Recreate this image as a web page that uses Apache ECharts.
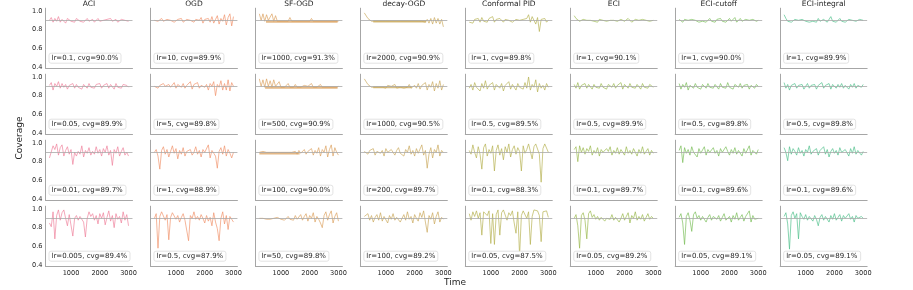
<!DOCTYPE html>
<html><head><meta charset="utf-8">
<script src="https://cdn.jsdelivr.net/npm/echarts@6/dist/echarts.min.js"></script>
<style>html,body{margin:0;padding:0;background:#fff}#c{width:913px;height:290px}</style>
</head><body><div id="c"></div>
<script>
const methods = ["ACI","OGD","SF-OGD","decay-OGD","Conformal PID","ECI","ECI-cutoff","ECI-integral"];
const times = [250,312.5,375,437.5,500,562.5,625,687.5,750,812.5,875,937.5,1000,1062.5,1125,1187.5,1250,1312.5,1375,1437.5,1500,1562.5,1625,1687.5,1750,1812.5,1875,1937.5,2000,2062.5,2125,2187.5,2250,2312.5,2375,2437.5,2500,2562.5,2625,2687.5,2750,2812.5,2875,2937.5,3000];
const xTicks = [1000,2000,3000];
const yTicks = [0.4,0.6,0.8,1.0];
const target = 0.9;
// learning rates and overall coverage, one row per grid row, one entry per method
const lrRows = [
  ["0.1","10","1000","2000","1","1","1","1"],
  ["0.05","5","500","1000","0.5","0.5","0.5","0.5"],
  ["0.01","1","100","200","0.1","0.1","0.1","0.1"],
  ["0.005","0.5","50","100","0.05","0.05","0.05","0.05"]
];
const cvgRows = [
  [90.0,89.9,91.3,90.9,89.8,90.1,90.0,89.9],
  [89.9,89.8,90.9,90.5,89.5,89.9,89.8,89.8],
  [89.7,88.9,90.0,89.7,88.3,89.7,89.6,89.6],
  [89.4,87.9,89.8,89.2,87.5,89.2,89.1,89.1]
];
const covACI = [
  [0.90,0.93,0.88,0.92,0.89,0.94,0.88,0.91,0.93,0.87,0.92,0.90,0.89,0.91,0.88,0.92,0.90,0.89,0.91,0.88,0.90,0.92,0.89,0.90,0.91,0.88,0.90,0.92,0.89,0.91,0.90,0.88,0.91,0.90,0.92,0.89,0.90,0.91,0.88,0.90,0.91,0.89,0.90,0.91,0.89],
  [0.91,0.94,0.86,0.93,0.90,0.95,0.88,0.93,0.89,0.92,0.87,0.91,0.90,0.93,0.88,0.92,0.89,0.90,0.87,0.92,0.90,0.88,0.93,0.89,0.91,0.88,0.92,0.90,0.93,0.88,0.91,0.89,0.93,0.88,0.92,0.90,0.87,0.93,0.89,0.91,0.88,0.92,0.90,0.91,0.89],
  [0.84,0.82,0.97,0.93,0.99,0.87,0.95,0.98,0.86,0.92,0.96,0.88,0.93,0.77,0.90,0.86,0.91,0.88,0.97,0.85,0.92,0.89,0.95,0.87,0.91,0.88,0.96,0.89,0.93,0.86,0.94,0.90,0.97,0.87,0.92,0.76,0.93,0.89,0.96,0.86,0.91,0.95,0.87,0.90,0.86],
  [0.85,0.81,0.97,0.68,0.93,0.99,0.88,0.96,0.99,0.90,0.82,0.94,0.92,0.71,0.90,0.93,0.88,0.92,0.94,0.86,0.70,0.90,0.97,0.92,0.95,0.88,0.93,0.84,0.95,0.90,0.96,0.83,0.91,0.98,0.87,0.93,0.80,0.95,0.89,0.92,0.85,0.97,0.88,0.94,0.82]
];
const covOGD = [
  [0.90,0.91,0.89,0.90,0.92,0.89,0.90,0.91,0.89,0.90,0.91,0.88,0.90,0.91,0.89,0.92,0.88,0.90,0.91,0.89,0.90,0.92,0.88,0.91,0.89,0.90,0.93,0.87,0.91,0.89,0.92,0.88,0.94,0.87,0.91,0.95,0.86,0.92,0.89,0.96,0.85,0.93,0.97,0.84,0.94],
  [0.90,0.92,0.88,0.91,0.89,0.93,0.90,0.88,0.92,0.89,0.91,0.94,0.88,0.92,0.90,0.89,0.93,0.88,0.91,0.90,0.95,0.87,0.92,0.90,0.94,0.88,0.91,0.93,0.89,0.92,0.86,0.93,0.90,0.95,0.80,0.92,0.89,0.96,0.86,0.93,0.86,0.97,0.85,0.94,0.90],
  [0.90,0.93,0.86,0.72,0.92,0.96,0.88,0.93,0.85,0.91,0.97,0.89,0.94,0.83,0.92,0.88,0.95,0.86,0.91,0.89,0.93,0.87,0.90,0.96,0.88,0.92,0.85,0.93,0.90,0.88,0.98,0.84,0.92,0.89,0.86,0.73,0.91,0.95,0.88,0.97,0.86,0.93,0.89,0.84,0.90],
  [0.90,0.95,0.58,0.92,0.97,0.99,0.88,0.94,0.67,0.91,0.96,0.98,0.89,0.93,0.86,0.91,0.95,0.88,0.90,0.66,0.93,0.90,0.97,0.89,0.92,0.88,0.94,0.90,0.85,0.93,0.87,0.91,0.82,0.96,0.86,0.79,0.66,0.90,0.97,0.84,0.93,0.78,0.92,0.89,0.86]
];
const covSFOGD = [
  [0.97,0.90,0.97,0.89,0.96,0.90,0.89,0.97,0.89,0.95,0.89,0.90,0.89,0.90,0.89,0.90,0.89,0.93,0.89,0.90,0.89,0.90,0.89,0.90,0.89,0.90,0.89,0.90,0.89,0.92,0.89,0.90,0.89,0.90,0.89,0.90,0.89,0.90,0.89,0.90,0.89,0.90,0.89,0.90,0.89],
  [0.98,0.90,0.97,0.89,0.98,0.90,0.96,0.89,0.97,0.90,0.89,0.95,0.89,0.90,0.89,0.90,0.93,0.89,0.90,0.89,0.92,0.89,0.90,0.89,0.90,0.91,0.89,0.90,0.89,0.93,0.89,0.90,0.89,0.90,0.92,0.89,0.90,0.89,0.91,0.89,0.90,0.89,0.90,0.89,0.90],
  [0.90,0.89,0.91,0.89,0.90,0.89,0.90,0.89,0.90,0.89,0.90,0.89,0.90,0.89,0.90,0.89,0.90,0.89,0.90,0.89,0.91,0.88,0.92,0.89,0.90,0.93,0.88,0.91,0.89,0.94,0.87,0.92,0.89,0.95,0.86,0.93,0.90,0.97,0.85,0.93,0.98,0.86,0.95,0.90,0.87],
  [0.90,0.89,0.90,0.91,0.89,0.90,0.89,0.91,0.90,0.89,0.91,0.90,0.89,0.91,0.88,0.90,0.92,0.89,0.91,0.88,0.93,0.89,0.91,0.94,0.88,0.92,0.95,0.87,0.93,0.90,0.96,0.86,0.92,0.89,0.85,0.80,0.93,0.97,0.88,0.94,0.98,0.85,0.92,0.96,0.87]
];
const covDecayOGD = [
  [0.98,0.97,0.92,0.90,0.89,0.90,0.89,0.90,0.89,0.90,0.89,0.90,0.89,0.90,0.89,0.90,0.89,0.90,0.89,0.90,0.89,0.90,0.89,0.90,0.89,0.90,0.89,0.90,0.89,0.90,0.89,0.90,0.89,0.90,0.88,0.91,0.87,0.92,0.86,0.93,0.87,0.92,0.86,0.91,0.83],
  [0.98,0.96,0.92,0.90,0.89,0.91,0.89,0.90,0.89,0.91,0.89,0.90,0.88,0.91,0.89,0.90,0.89,0.92,0.88,0.90,0.89,0.91,0.88,0.90,0.89,0.92,0.88,0.90,0.91,0.88,0.93,0.87,0.91,0.89,0.94,0.86,0.92,0.89,0.95,0.85,0.93,0.88,0.96,0.86,0.92],
  [0.91,0.93,0.88,0.92,0.90,0.94,0.87,0.91,0.93,0.89,0.92,0.86,0.94,0.90,0.88,0.93,0.91,0.87,0.92,0.95,0.89,0.91,0.86,0.93,0.90,0.97,0.88,0.92,0.86,0.94,0.89,0.91,0.98,0.87,0.92,0.73,0.88,0.95,0.84,0.93,0.90,0.98,0.86,0.92,0.90],
  [0.92,0.90,0.95,0.88,0.93,0.86,0.91,0.94,0.88,0.96,0.87,0.92,0.90,0.85,0.93,0.89,0.95,0.88,0.91,0.93,0.86,0.90,0.94,0.88,0.97,0.89,0.92,0.85,0.94,0.90,0.87,0.96,0.91,0.98,0.86,0.75,0.93,0.89,0.96,0.84,0.92,0.97,0.86,0.91,0.89]
];
const covPID = [
  [0.88,0.90,0.87,0.91,0.89,0.92,0.88,0.93,0.89,0.91,0.88,0.92,0.90,0.94,0.88,0.91,0.89,0.92,0.90,0.88,0.91,0.89,0.90,0.92,0.88,0.90,0.91,0.89,0.90,0.88,0.91,0.89,0.92,0.96,0.88,0.94,0.90,0.86,0.93,0.78,0.91,0.89,0.92,0.88,0.90],
  [0.88,0.92,0.86,0.94,0.89,0.91,0.85,0.93,0.88,0.96,0.87,0.91,0.89,0.94,0.86,0.92,0.90,0.88,0.93,0.85,0.91,0.89,0.95,0.87,0.92,0.90,0.86,0.93,0.89,0.91,0.87,0.94,0.88,1.00,0.86,0.92,0.89,0.97,0.84,0.93,0.88,0.91,0.86,0.93,0.89],
  [0.92,0.88,0.98,0.90,0.84,0.96,0.88,0.72,0.95,0.99,0.86,0.93,0.89,0.97,0.70,0.92,0.98,0.87,0.94,0.82,0.96,0.90,0.99,0.85,0.93,0.97,0.88,0.95,0.91,0.70,0.97,0.89,0.93,0.99,0.99,0.83,0.96,0.99,0.98,0.88,0.58,0.94,0.99,0.97,0.90],
  [0.95,0.88,0.97,0.92,0.98,0.90,0.96,0.72,0.97,0.99,0.93,0.98,0.63,0.95,0.62,0.94,0.99,0.72,0.96,0.99,0.99,0.88,0.96,0.93,0.98,0.85,0.74,0.97,0.50,0.93,0.98,0.99,0.90,0.97,0.62,0.92,0.99,0.99,0.98,0.93,0.65,0.97,0.99,0.98,0.91]
];
const covECI = [
  [0.95,0.92,0.90,0.89,0.90,0.91,0.89,0.90,0.88,0.90,0.91,0.89,0.90,0.88,0.91,0.89,0.90,0.92,0.89,0.91,0.90,0.88,0.90,0.92,0.89,0.90,0.91,0.93,0.89,0.90,0.92,0.94,0.88,0.90,0.91,0.89,0.90,0.88,0.91,0.89,0.90,0.91,0.89,0.90,0.90],
  [0.92,0.88,0.94,0.87,0.91,0.89,0.93,0.88,0.92,0.90,0.87,0.92,0.89,0.91,0.88,0.93,0.89,0.90,0.87,0.92,0.90,0.89,0.93,0.88,0.91,0.89,0.94,0.87,0.92,0.90,0.88,0.93,0.89,0.91,0.88,0.92,0.90,0.87,0.93,0.89,0.91,0.88,0.92,0.90,0.89],
  [0.93,0.96,0.80,0.97,0.90,0.95,0.88,0.94,0.91,0.97,0.87,0.92,0.89,0.95,0.86,0.93,0.90,0.88,0.94,0.91,0.96,0.87,0.92,0.89,0.95,0.88,0.93,0.90,0.87,0.96,0.89,0.92,0.88,0.94,0.90,0.86,0.93,0.89,0.96,0.88,0.91,0.94,0.87,0.92,0.89],
  [0.90,0.94,0.82,0.58,0.93,0.96,0.88,0.68,0.95,0.98,0.91,0.94,0.89,0.92,0.88,0.91,0.93,0.87,0.90,0.92,0.89,0.94,0.88,0.91,0.93,0.86,0.90,0.95,0.88,0.92,0.96,0.85,0.93,0.90,0.97,0.88,0.92,0.89,0.94,0.87,0.91,0.95,0.89,0.92,0.90]
];
const covECIcutoff = [
  [0.91,0.90,0.88,0.91,0.89,0.90,0.88,0.91,0.89,0.90,0.92,0.88,0.90,0.89,0.91,0.88,0.90,0.92,0.89,0.90,0.88,0.91,0.90,0.92,0.89,0.91,0.88,0.90,0.92,0.89,0.91,0.93,0.88,0.90,0.92,0.89,0.90,0.91,0.89,0.90,0.89,0.91,0.90,0.89,0.90],
  [0.93,0.87,0.92,0.89,0.94,0.86,0.91,0.90,0.88,0.93,0.89,0.91,0.87,0.92,0.90,0.88,0.93,0.89,0.91,0.88,0.92,0.90,0.87,0.93,0.89,0.91,0.88,0.94,0.89,0.90,0.87,0.92,0.90,0.89,0.93,0.88,0.91,0.89,0.92,0.87,0.91,0.90,0.88,0.92,0.90],
  [0.92,0.97,0.79,0.95,0.89,0.93,0.87,0.96,0.90,0.92,0.85,0.94,0.89,0.91,0.96,0.87,0.93,0.90,0.88,0.95,0.89,0.92,0.86,0.94,0.90,0.88,0.96,0.91,0.87,0.93,0.89,0.95,0.88,0.92,0.90,0.86,0.94,0.89,0.91,0.97,0.87,0.92,0.90,0.88,0.93],
  [0.91,0.95,0.85,0.62,0.92,0.96,0.88,0.76,0.94,0.97,0.90,0.93,0.88,0.92,0.89,0.86,0.91,0.94,0.88,0.92,0.90,0.89,0.93,0.87,0.91,0.95,0.88,0.90,0.92,0.86,0.93,0.89,0.96,0.88,0.91,0.94,0.87,0.92,0.90,0.98,0.86,0.93,0.89,0.91,0.90]
];
const covECIintegral = [
  [0.96,0.92,0.89,0.91,0.88,0.90,0.91,0.89,0.90,0.88,0.91,0.90,0.89,0.91,0.88,0.90,0.89,0.91,0.88,0.92,0.89,0.90,0.91,0.93,0.88,0.90,0.94,0.89,0.91,0.88,0.90,0.92,0.89,0.91,0.88,0.90,0.91,0.89,0.90,0.92,0.89,0.90,0.91,0.89,0.90],
  [0.94,0.88,0.92,0.86,0.91,0.90,0.93,0.88,0.91,0.89,0.92,0.87,0.90,0.93,0.88,0.91,0.89,0.92,0.87,0.91,0.90,0.94,0.88,0.91,0.89,0.93,0.87,0.92,0.90,0.88,0.92,0.89,0.93,0.88,0.91,0.90,0.87,0.92,0.89,0.93,0.88,0.91,0.90,0.89,0.92],
  [0.95,0.90,0.81,0.96,0.88,0.94,0.91,0.87,0.95,0.89,0.92,0.86,0.93,0.90,0.97,0.88,0.91,0.89,0.94,0.87,0.92,0.90,0.96,0.88,0.93,0.85,0.91,0.94,0.89,0.92,0.87,0.95,0.90,0.88,0.93,0.91,0.86,0.94,0.89,0.96,0.88,0.92,0.90,0.87,0.91],
  [0.92,0.96,0.84,0.57,0.93,0.97,0.90,0.95,0.68,0.96,0.92,0.89,0.94,0.88,0.92,0.90,0.87,0.93,0.89,0.82,0.91,0.94,0.88,0.92,0.90,0.86,0.93,0.89,0.95,0.88,0.91,0.94,0.87,0.93,0.90,0.88,0.95,0.89,0.92,0.86,0.93,0.90,0.88,0.92,0.90]
];
// dense oscillation bands [tStart, tEnd, low, high] per row (null = none)
const bandSFOGD = [[480,2970,0.875,0.90],[450,2970,0.875,0.90],[250,1650,0.878,0.90],null];
const bandDecayOGD = [[560,2400,0.877,0.90],[560,1900,0.880,0.90],null,null];

const coverage = [covACI,covOGD,covSFOGD,covDecayOGD,covPID,covECI,covECIcutoff,covECIintegral];
const bands = [null,null,bandSFOGD,bandDecayOGD,null,null,null,null];
const colors = ["#ee7f9a","#f0916a","#dba05e","#c9a85a","#b5b14f","#98b84c","#77bd55","#4dbf8a"];

const FONT = "DejaVu Sans";
const TXT = "#262626";
const SPINE = "#a6a6a6";
const colLeft = c => 45.5 + 104.95*c;
const rowTop = r => 8.2 + 66*r;
const PW = 87, PH = 60.1;

const grid=[], xAxis=[], yAxis=[], series=[], title=[];
let idx=0;
for (let r=0;r<4;r++){
  for (let c=0;c<8;c++){
    grid.push({left:colLeft(c), top:rowTop(r), width:PW, height:PH, containLabel:false});
    xAxis.push({type:'value', gridIndex:idx, min:112.5, max:3137.5,
      axisLine:{show:true, lineStyle:{color:SPINE, width:1}},
      axisTick:{show:false},
      splitLine:{show:false},
      axisLabel:{show:r===3, customValues:xTicks, fontSize:6.6, fontFamily:FONT, color:TXT, margin:3,
        formatter:v=>String(Math.round(v))}
    });
    yAxis.push({type:'value', gridIndex:idx, min:0.386, max:1.03,
      axisLine:{show:true, lineStyle:{color:SPINE, width:1}},
      axisTick:{show:false},
      splitLine:{show:false},
      axisLabel:{show:c===0, customValues:yTicks, fontSize:6.6, fontFamily:FONT, color:TXT, margin:3,
        formatter:v=>v.toFixed(1)}
    });
    const vals = coverage[c][r];
    const s = {type:'line', xAxisIndex:idx, yAxisIndex:idx, showSymbol:false, symbol:'none',
      data: times.map((t,i)=>[t, vals[i]]),
      lineStyle:{color:colors[c], width:0.8, opacity:0.85},
      itemStyle:{color:colors[c]},
      silent:true, animation:false,
      markLine:{silent:true, symbol:'none', label:{show:false}, animation:false,
        lineStyle:{color:'#a8a8a8', width:0.8, type:'solid'}, data:[{yAxis:target}]}
    };
    const b = bands[c] && bands[c][r];
    if (b){
      s.markArea = {silent:true, animation:false, itemStyle:{color:colors[c], opacity:0.75},
        data:[[{xAxis:b[0], yAxis:b[2]},{xAxis:b[1], yAxis:b[3]}]]};
    }
    series.push(s);
    title.push({text:'lr='+lrRows[r][c]+', cvg='+cvgRows[r][c].toFixed(1)+'%',
      left:colLeft(c)+3, top:rowTop(r)+44.5,
      backgroundColor:'#fff', borderColor:'#dcdcdc', borderWidth:0.8, borderRadius:2,
      padding:[2,3,1.5,3],
      textStyle:{fontSize:7, fontFamily:FONT, color:TXT, fontWeight:'normal'}});
    idx++;
  }
}
for (let c=0;c<8;c++){
  title.push({text:methods[c], left:colLeft(c)+PW/2, top:0, textAlign:'center', padding:0,
    textStyle:{fontSize:7.5, fontFamily:FONT, color:TXT, fontWeight:'normal'}});
}
const chart = echarts.init(document.getElementById('c'), null, {renderer:'canvas'});
chart.setOption({
  animation:false,
  backgroundColor:'#fff',
  title, grid, xAxis, yAxis, series,
  graphic:[
    {type:'text', x:20, y:138, rotation:Math.PI/2,
      style:{text:'Coverage', fontSize:9, fontFamily:FONT, fill:TXT, align:'center', verticalAlign:'middle'}},
    {type:'text', x:455, y:283,
      style:{text:'Time', fontSize:9, fontFamily:FONT, fill:TXT, align:'center', verticalAlign:'middle'}}
  ]
});
</script></body></html>
